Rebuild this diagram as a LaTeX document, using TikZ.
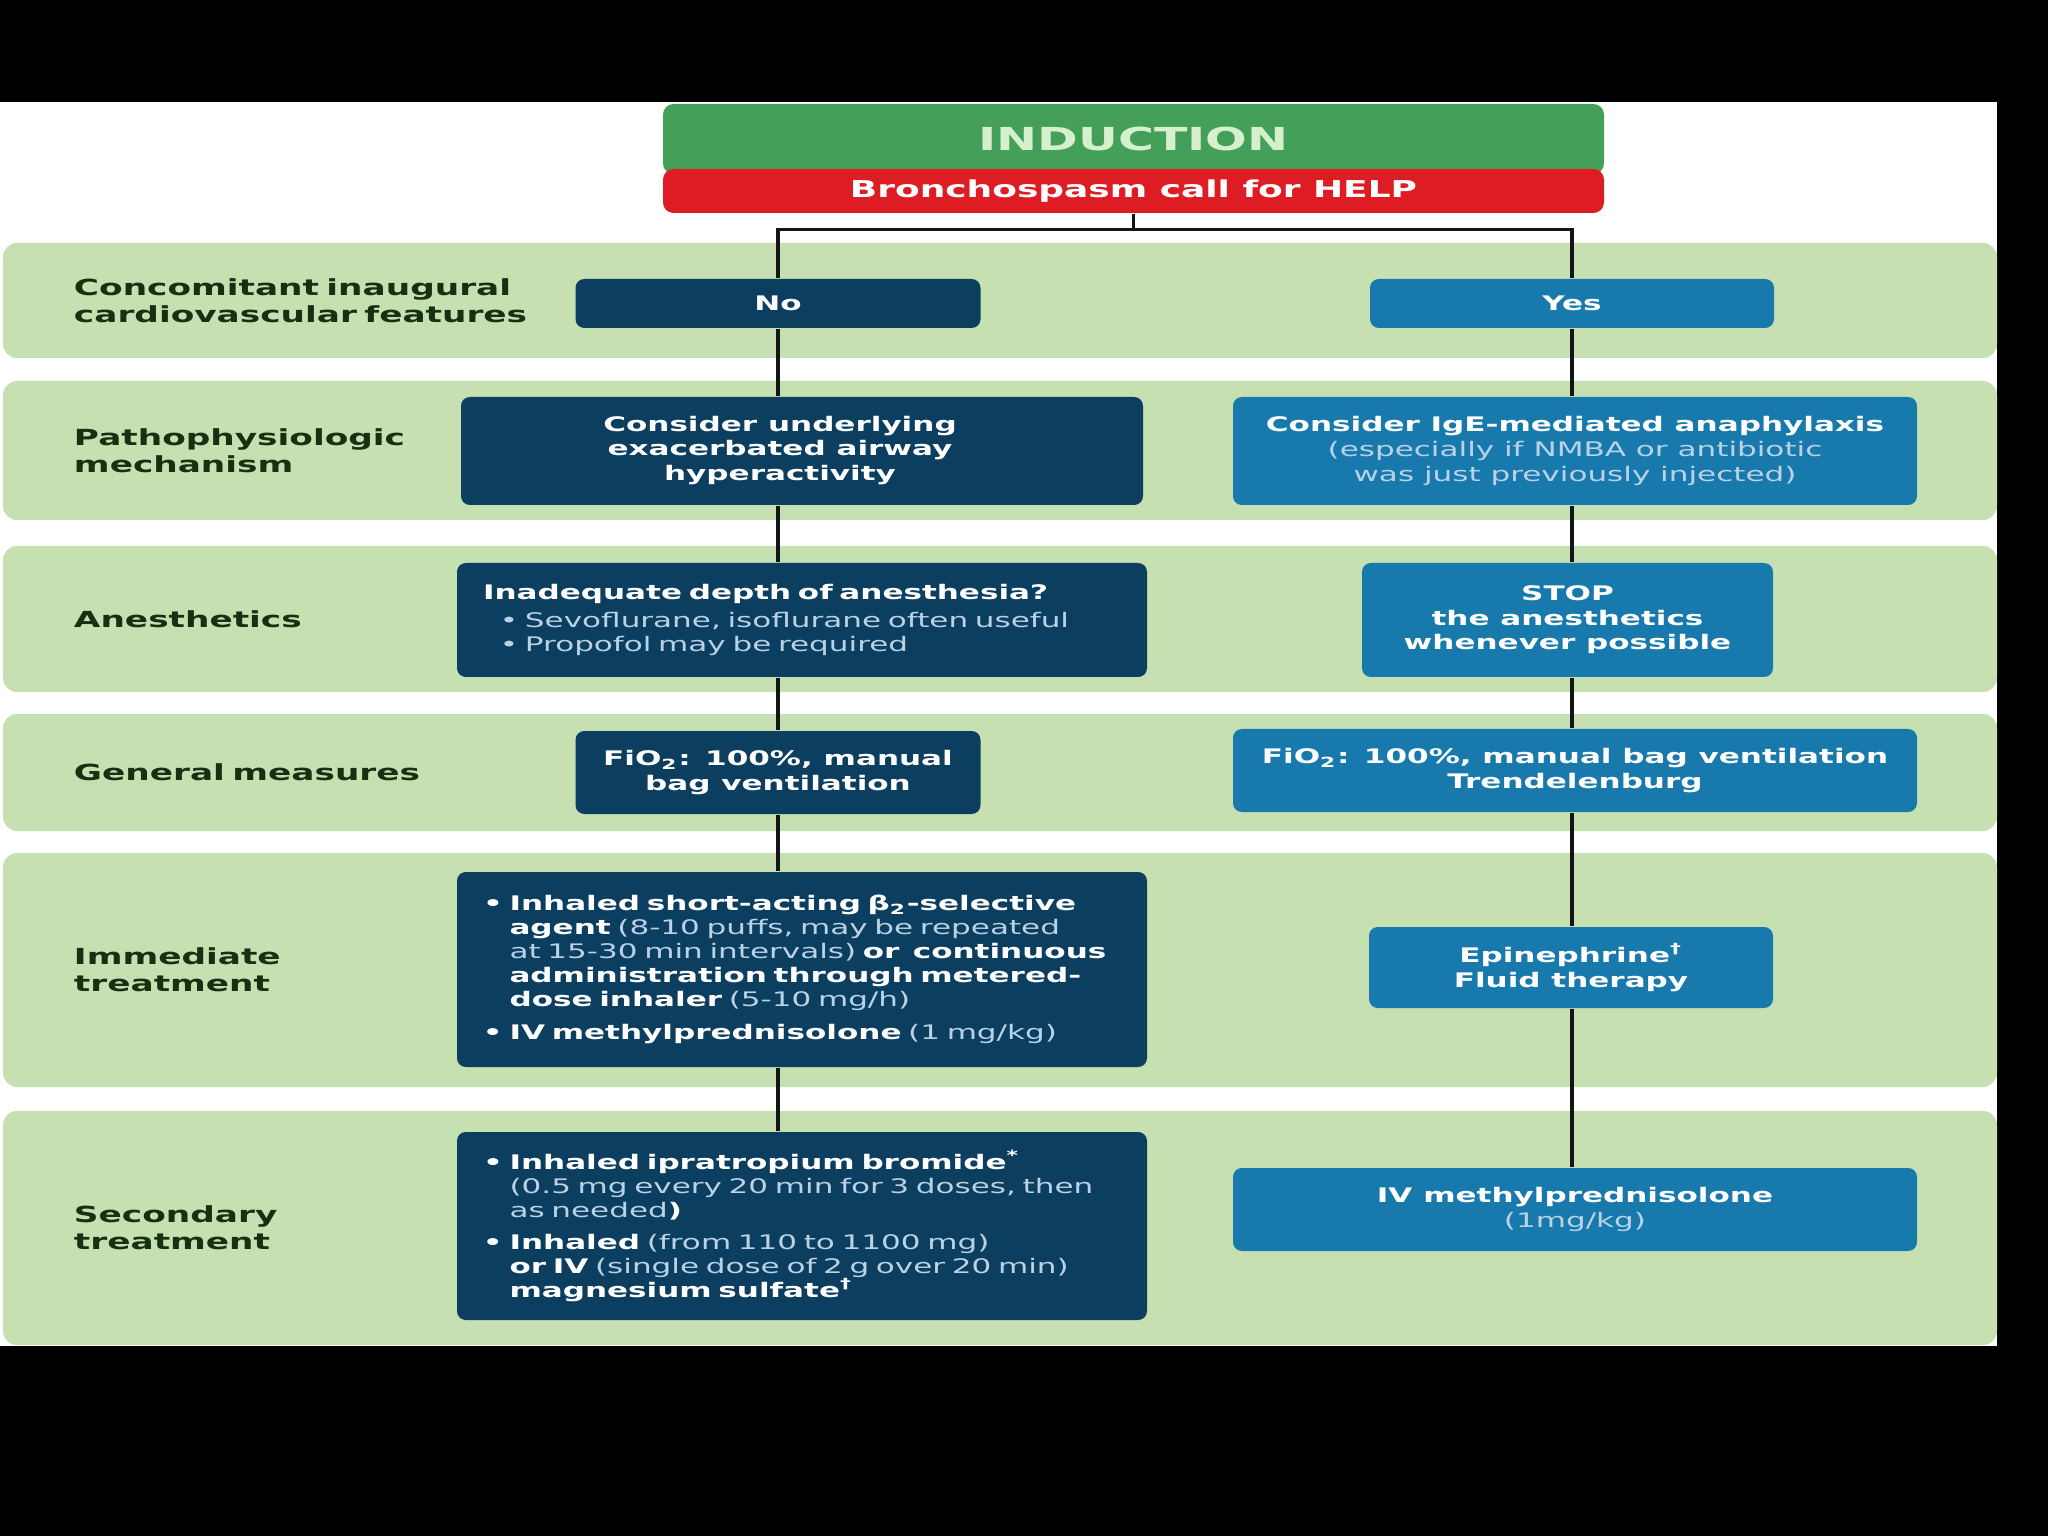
\documentclass[tikz,border=0pt]{standalone}
\usepackage{fontspec}
\usepackage{tikz}
\usetikzlibrary{positioning, calc}

\newfontfamily\wsf[FakeStretch=1.55]{DejaVu Sans}

\definecolor{bandgreen}{RGB}{198,224,178}
\definecolor{lblgreen}{RGB}{22,48,18}
\definecolor{hdrgreen}{RGB}{68,160,88}
\definecolor{hdrred}{RGB}{222,28,36}
\definecolor{hdrtext}{RGB}{214,240,206}
\definecolor{navy}{RGB}{12,62,96}
\definecolor{skyblue}{RGB}{24,122,172}
\definecolor{boxlight}{RGB}{185,210,230}
\definecolor{linegray}{RGB}{20,20,20}

\newcommand{\regtxt}[1]{{\mdseries\color{boxlight}#1}}
\newcommand{\bulpt}{•\ }
\newcommand{\bulind}{\phantom{•\ }}

\begin{document}
\begin{tikzpicture}[
    band/.style={fill=bandgreen, rounded corners=4pt, minimum width=19.94cm,
                 text width=18.52cm, inner xsep=0.71cm, align=left, text=lblgreen,
                 font=\wsf\bfseries\fontsize{6.3}{7.8}\selectfont},
    hdr/.style={rounded corners=3pt, minimum width=9.41cm, inner sep=0pt, align=center},
    box/.style={rounded corners=2.5pt, text=white, align=center, inner sep=0pt,
                font=\wsf\bfseries\fontsize{5.7}{7.0}\selectfont},
    navybox/.style={box, fill=navy},
    bluebox/.style={box, fill=skyblue},
    lbox/.style={align=left, text width=6.38cm, font=\wsf\bfseries\fontsize{5.7}{6.8}\selectfont},
    link/.style={line width=0.9pt, draw=linegray},
]

% page, white sheet
\fill[black] (0,0) rectangle (20.48,-15.36);
\fill[white] (0,-1.02) rectangle (19.97,-13.46);
\useasboundingbox (0,0) rectangle (20.48,-15.36);

% row bands with their labels
\node[band, minimum height=1.15cm] (b1) at (10.00,-3.005) {Concomitant inaugural\\cardiovascular features};
\node[band, minimum height=1.39cm] (b2) at (10.00,-4.505) {Pathophysiologic\\mechanism};
\node[band, minimum height=1.46cm] (b3) at (10.00,-6.19)  {Anesthetics};
\node[band, minimum height=1.17cm] (b4) at (10.00,-7.725) {General measures};
\node[band, minimum height=2.34cm] (b5) at (10.00,-9.70)  {Immediate\\treatment};
\node[band, minimum height=2.34cm] (b6) at (10.00,-12.28) {Secondary\\treatment};

% header
\node[hdr, fill=hdrgreen, text=hdrtext, minimum height=0.70cm,
      font=\wsf\bfseries\fontsize{9}{10}\selectfont] (induct) at (11.335,-1.39) {INDUCTION};
\node[hdr, fill=hdrred, text=white, minimum height=0.44cm,
      font=\wsf\bfseries\fontsize{6.6}{7.5}\selectfont] (help) at (11.335,-1.91) {Bronchospasm call for HELP};

% left column (No)
\node[navybox, minimum width=4.05cm, minimum height=0.49cm] (no) at (7.78,-3.035) {No};
\node[navybox, minimum width=6.82cm, minimum height=1.08cm] (hyp) at (8.02,-4.51)
    {\begin{tabular}{@{}c@{}}Consider underlying\\exacerbated airway\\hyperactivity\end{tabular}\hspace*{0.44cm}};
\node[navybox, lbox, minimum width=6.90cm, minimum height=1.14cm] (anes) at (8.02,-6.20)
    {Inadequate depth of anesthesia?\\[1pt]
     \hspace*{0.17cm}\regtxt{\bulpt Sevoflurane, isoflurane often useful}\\
     \hspace*{0.17cm}\regtxt{\bulpt Propofol may be required}};
\node[navybox, minimum width=4.05cm, minimum height=0.83cm] (fio) at (7.78,-7.725)
    {FiO\textsubscript{2}: 100\%, manual\\bag ventilation};
\node[navybox, lbox, minimum width=6.90cm, minimum height=1.95cm] (imm) at (8.02,-9.695)
    {\bulpt Inhaled short-acting β\textsubscript{2}-selective\\
     \bulind agent \regtxt{(8-10 puffs, may be repeated}\\
     \bulind\regtxt{at 15-30 min intervals)} or\ \ continuous\\
     \bulind administration through metered-\\
     \bulind dose inhaler \regtxt{(5-10 mg/h)}\\[2.5pt]
     \bulpt IV methylprednisolone \regtxt{(1 mg/kg)}};
\node[navybox, lbox, minimum width=6.90cm, minimum height=1.88cm] (sec) at (8.02,-12.26)
    {\bulpt Inhaled ipratropium bromide\textsuperscript{*}\\
     \bulind\regtxt{(0.5 mg every 20 min for 3 doses, then}\\
     \bulind\regtxt{as needed})\\[2.5pt]
     \bulpt Inhaled \regtxt{(from 110 to 1100 mg)}\\
     \bulind or IV \regtxt{(single dose of 2 g over 20 min)}\\
     \bulind magnesium sulfate\textsuperscript{†}};

% right column (Yes)
\node[bluebox, minimum width=4.04cm, minimum height=0.49cm] (yes) at (15.72,-3.035) {Yes};
\node[bluebox, minimum width=6.84cm, minimum height=1.08cm] (ige) at (15.75,-4.51)
    {Consider IgE-mediated anaphylaxis\\
     \regtxt{(especially if NMBA or antibiotic}\\
     \regtxt{was just previously injected)}};
\node[bluebox, minimum width=4.11cm, minimum height=1.14cm] (stop) at (15.675,-6.20)
    {STOP\\the anesthetics\\whenever possible};
\node[bluebox, minimum width=6.84cm, minimum height=0.83cm] (vent) at (15.75,-7.705)
    {FiO\textsubscript{2}: 100\%, manual bag ventilation\\Trendelenburg};
\node[bluebox, minimum width=4.04cm, minimum height=0.81cm] (epi) at (15.71,-9.675)
    {Epinephrine\textsuperscript{†}\\Fluid therapy};
\node[bluebox, minimum width=6.84cm, minimum height=0.83cm] (iv) at (15.75,-12.095)
    {IV methylprednisolone\\\regtxt{(1mg/kg)}};

% connectors
\draw[link] (help.south) -- ++(0,-0.16) coordinate (split);
\draw[link] (no.north) |- (split) -| (yes.north);
\foreach \a/\b in {no/hyp, hyp/anes, anes/fio, fio/imm, imm/sec}
    \draw[link] (\a.south -| no) -- (\b.north -| no);
\foreach \a/\b in {yes/ige, ige/stop, stop/vent, vent/epi, epi/iv}
    \draw[link] (\a.south -| yes) -- (\b.north -| yes);

\end{tikzpicture}
\end{document}
